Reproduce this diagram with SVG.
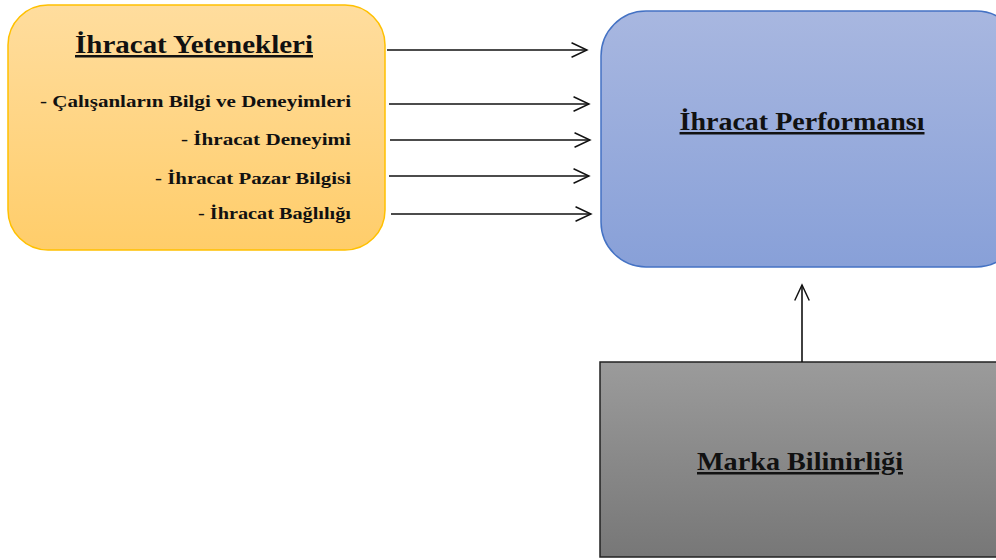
<svg xmlns="http://www.w3.org/2000/svg" width="996" height="560" viewBox="0 0 996 560">
<defs>
<linearGradient id="gOr" x1="0" y1="0" x2="0" y2="1"><stop offset="0" stop-color="#FFDD9E"/><stop offset="1" stop-color="#FFCD6A"/></linearGradient>
<linearGradient id="gBl" x1="0" y1="0" x2="0" y2="1"><stop offset="0" stop-color="#A8B7E0"/><stop offset="1" stop-color="#88A0D8"/></linearGradient>
<linearGradient id="gGr" x1="0" y1="0" x2="0" y2="1"><stop offset="0" stop-color="#9B9B9B"/><stop offset="1" stop-color="#777777"/></linearGradient>
<marker id="ah" markerWidth="20" markerHeight="20" viewBox="-20 -10 22 20" refX="0" refY="0" orient="auto" markerUnits="userSpaceOnUse">
<path d="M-17,-8 L0,0 L-17,8" fill="none" stroke="#111" stroke-width="1.6"/>
</marker>
</defs>
<style>
.t{font-family:"Liberation Serif",serif;font-weight:bold;fill:#111;}
.h{font-size:25px;text-decoration:underline;text-anchor:middle;}
.i{font-size:17px;text-anchor:end;}
.c{stroke:#111;stroke-width:1.6;fill:none;marker-end:url(#ah);}
</style>
<g id="ihracat-yetenekleri">
<rect x="8" y="5" width="377" height="245" rx="40" fill="url(#gOr)" stroke="#FFC000" stroke-width="1.5"/>
<text class="t h" x="194" y="53" textLength="238" lengthAdjust="spacingAndGlyphs">İhracat Yetenekleri</text>
<text class="t i" x="351" y="107" textLength="311" lengthAdjust="spacingAndGlyphs">- Çalışanların Bilgi ve Deneyimleri</text>
<text class="t i" x="351" y="145" textLength="170" lengthAdjust="spacingAndGlyphs">- İhracat Deneyimi</text>
<text class="t i" x="351" y="184" textLength="196" lengthAdjust="spacingAndGlyphs">- İhracat Pazar Bilgisi</text>
<text class="t i" x="351" y="219" textLength="153" lengthAdjust="spacingAndGlyphs">- İhracat Bağlılığı</text>
</g>
<g id="ihracat-performansi">
<rect x="601" y="11" width="420" height="256" rx="45" fill="url(#gBl)" stroke="#4472C4" stroke-width="1.5"/>
<text class="t h" x="802" y="130" textLength="245" lengthAdjust="spacingAndGlyphs">İhracat Performansı</text>
</g>
<g id="marka-bilinirligi">
<rect x="600" y="362" width="420" height="195" fill="url(#gGr)" stroke="#222" stroke-width="1.5"/>
<text class="t h" x="800" y="470" textLength="206" lengthAdjust="spacingAndGlyphs">Marka Bilinirliği</text>
</g>
<g id="connectors">
<line class="c" x1="387" y1="50" x2="587" y2="50"/>
<line class="c" x1="389" y1="104" x2="589" y2="104"/>
<line class="c" x1="390" y1="140" x2="590" y2="140"/>
<line class="c" x1="389" y1="176" x2="589" y2="176"/>
<line class="c" x1="391" y1="214" x2="591" y2="214"/>
<line class="c" x1="802" y1="362" x2="802" y2="285"/>
</g>
</svg>
